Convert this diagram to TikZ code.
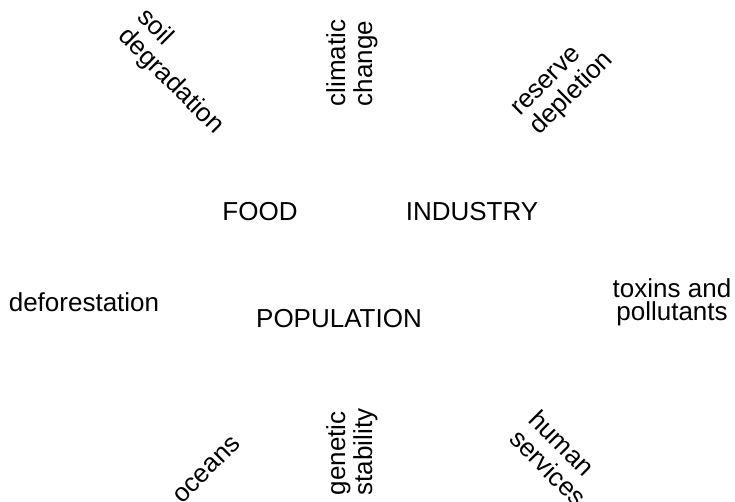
\documentclass[tikz,border=0pt]{standalone}
\usepackage{fontspec}
\setmainfont{Liberation Sans}
\usetikzlibrary{positioning}

\begin{document}
\begin{tikzpicture}[x=1pt,y=-1pt,
  lbl/.style={inner sep=0pt,align=left,font=\fontsize{26}{27}\selectfont}]
\useasboundingbox (0,0) rectangle (735,502);
% the three centres
\node[lbl] (food) at (260,212) {FOOD};
\node[lbl] (industry) at (472,212) {INDUSTRY};
\node[lbl] (population) at (339,319) {POPULATION};
% the pressures round them
\node[lbl,rotate=-45] (soil) at (180,72) {soil\\degradation};
\node[lbl,rotate=90] (climate) at (352,63) {climatic\\change};
\node[lbl,rotate=45] (reserve) at (564,86) {reserve\\depletion};
\node[lbl] (forest) at (84,302) {deforestation};
\node[lbl,align=center,font=\fontsize{26}{23}\selectfont] (toxins) at (672,302) {toxins and\\pollutants};
\node[lbl,rotate=45] (oceans) at (207,470) {oceans};
\node[lbl,rotate=90] (genetic) at (352,452) {genetic\\stability};
\node[lbl,rotate=-45] (human) at (558,458) {human\\services};
\end{tikzpicture}
\end{document}
